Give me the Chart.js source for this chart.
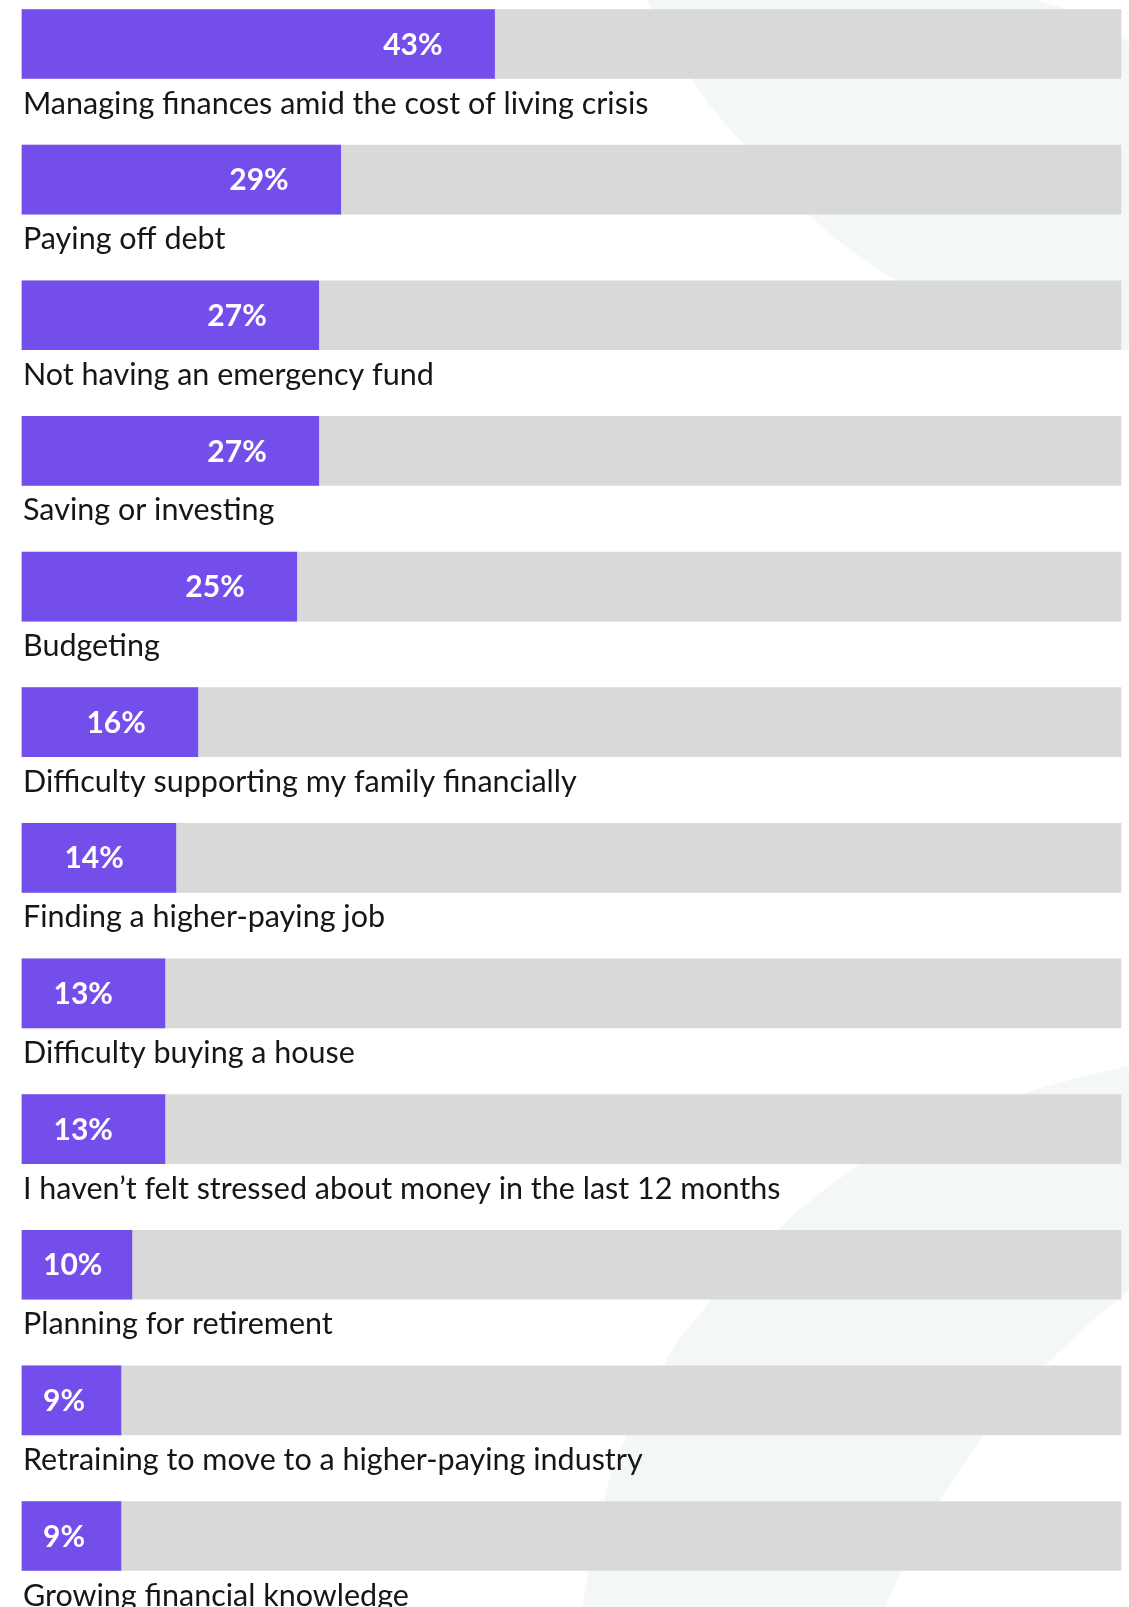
<!DOCTYPE html>
<html lang="en">
<head>
    <meta charset="UTF-8">
    <title>Money worries</title>
    <script src="https://cdn.jsdelivr.net/npm/chart.js"></script>
    <style>
        body {
            margin: 0;
            padding: 0;
            background-color: #ffffff;
            font-family: Lato, sans-serif;
        }
        .wrap {
            position: relative;
            width: 1129px;
            height: 1607px;
            overflow: hidden;
        }
        /* faint green swooshes behind the chart */
        .wrap svg {
            position: absolute;
            left: 0;
            top: 0;
        }
        #chart {
            position: absolute;
            left: 0;
            top: 0;
        }
    </style>
</head>
<body>
    <div class="wrap">
        <svg width="1129" height="1607" viewBox="0 0 1129 1607">
            <path d="M647,0 Q672,45 696,86 Q720,120 749,150 Q785,192 826,231 Q875,270 928,300 Q1030,345 1129,350 L1129,42 Q1085,12 1035,0 Z" fill="#f4f8f5"/>
            <path d="M1129,1066 Q990,1095 878,1152 Q835,1180 795,1213 Q735,1270 679,1339 Q640,1400 612,1469 Q595,1535 582,1607 L885,1607 Q910,1550 940,1500 Q970,1452 1004,1410 Q1060,1345 1129,1290 Z" fill="#f4f8f5"/>
        </svg>
        <canvas id="chart" width="1129" height="1607"></canvas>
    </div>

    <script>
        const categories = [
            'Managing finances amid the cost of living crisis',
            'Paying off debt',
            'Not having an emergency fund',
            'Saving or investing',
            'Budgeting',
            'Difficulty supporting my family financially',
            'Finding a higher-paying job',
            'Difficulty buying a house',
            'I haven\u2019t felt stressed about money in the last 12 months',
            'Planning for retirement',
            'Retraining to move to a higher-paying industry',
            'Growing financial knowledge'
        ];
        const shares = [43, 29, 27, 27, 25, 16, 14, 13, 13, 10, 9, 9];
        const track = [100, 100, 100, 100, 100, 100, 100, 100, 100, 100, 100, 100];

        const PURPLE = '#734eeb';
        const GREY = '#d9d9d9';
        const BAR_H = 69;

        // category name under each bar, percentage inside the purple part
        const barText = {
            id: 'barText',
            afterDatasetsDraw(chart) {
                const ctx = chart.ctx;
                const x = chart.scales.x;
                const y = chart.scales.y;
                const start = x.getPixelForValue(0);
                ctx.save();
                categories.forEach((name, i) => {
                    const cy = y.getPixelForValue(i);
                    ctx.fillStyle = '#161616';
                    ctx.font = '30.5px Lato, sans-serif';
                    ctx.textAlign = 'left';
                    ctx.textBaseline = 'alphabetic';
                    ctx.fillText(name, start + 1, cy + BAR_H / 2 + 35);

                    const txt = shares[i] + '%';
                    const end = x.getPixelForValue(shares[i]);
                    ctx.font = 'bold 30px Lato, sans-serif';
                    const w = ctx.measureText(txt).width;
                    let left = end - 52 - w;
                    if (left < start + 21) left = start + 21;
                    ctx.fillStyle = '#ffffff';
                    ctx.textBaseline = 'middle';
                    ctx.fillText(txt, left, cy + 1);
                });
                ctx.restore();
            }
        };

        new Chart(document.getElementById('chart'), {
            type: 'bar',
            data: {
                labels: categories,
                datasets: [
                    {
                        data: shares,
                        backgroundColor: PURPLE,
                        barThickness: BAR_H,
                        grouped: false,
                        clip: false,
                        order: 0
                    },
                    {
                        data: track,
                        backgroundColor: GREY,
                        barThickness: BAR_H,
                        grouped: false,
                        clip: false,
                        order: 1
                    }
                ]
            },
            options: {
                indexAxis: 'y',
                responsive: false,
                animation: false,
                layout: {
                    padding: { top: 44, bottom: 71, left: 22, right: 8 }
                },
                scales: {
                    x: { display: false, min: 0, max: 100 },
                    y: { display: false, offset: false }
                },
                plugins: {
                    legend: { display: false },
                    tooltip: { enabled: false }
                }
            },
            plugins: [barText]
        });
    </script>
</body>
</html>
